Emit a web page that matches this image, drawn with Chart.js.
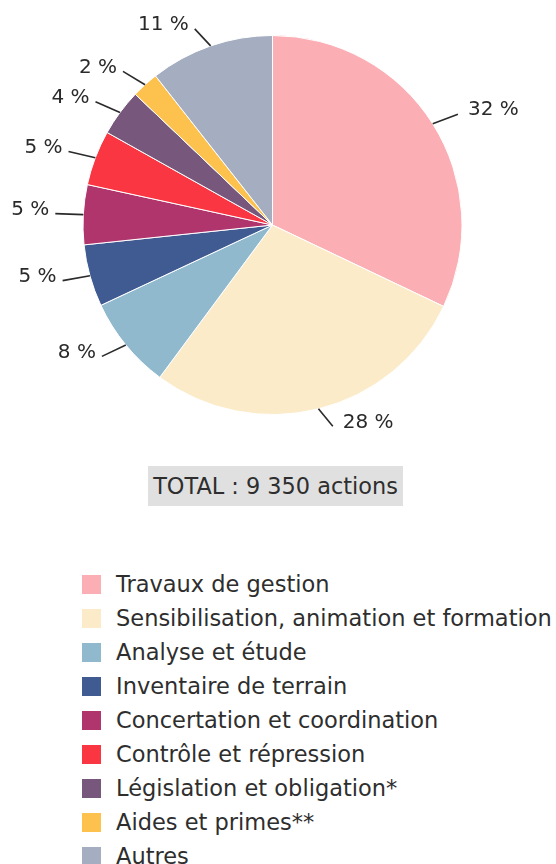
<!DOCTYPE html>
<html lang="fr">
<head>
<meta charset="utf-8">
<script src="https://cdn.jsdelivr.net/npm/chart.js@4/dist/chart.umd.min.js"></script>
<style>
  html, body { margin: 0; padding: 0; background: #fff; }
  body { width: 556px; height: 864px; position: relative; overflow: hidden; font-family: "DejaVu Sans", sans-serif; color: #2e2e2e; }
  #wrap { position: absolute; left: 0; top: 0; width: 556px; height: 460px; }
  #total {
    position: absolute; left: 148px; top: 466px; width: 255px; height: 40px;
    background: #e0e0e0; font-size: 22.4px; line-height: 40px; text-align: center; white-space: nowrap;
  }
  #legend { position: absolute; left: 82px; top: 567px; margin: 0; padding: 0; list-style: none; }
  #legend li { height: 34px; line-height: 34px; font-size: 22.5px; white-space: nowrap; position: relative; padding-left: 34px; }
  #legend li span { position: absolute; left: 0; top: 8px; width: 19px; height: 19px; }
</style>
</head>
<body>
<div id="wrap"><canvas id="pie"></canvas></div>
<div id="total"></div>
<ul id="legend"></ul>
<script>
// =========================
// DONNÉES
// =========================
const categories = [
  "Travaux de gestion",
  "Sensibilisation, animation et formation",
  "Analyse et étude",
  "Inventaire de terrain",
  "Concertation et coordination",
  "Contrôle et répression",
  "Législation et obligation*",
  "Aides et primes**",
  "Autres",
];
const shares = [32.1, 28.1, 7.9, 5.3, 5.1, 4.7, 4.0, 2.3, 10.6];
const colors = [
  "#fbafb5", "#fbebc8", "#90b9ce", "#405b91", "#b0356d",
  "#f93641", "#77577c", "#fdc24d", "#a4aec0",
];
const totalActions = "9 350";

// =========================
// ÉTIQUETTES AVEC TRAITS
// =========================
const leaderLabels = {
  id: "leaderLabels",
  afterDatasetsDraw(chart) {
    const ctx = chart.ctx;
    const meta = chart.getDatasetMeta(0);
    const data = chart.data.datasets[0].data;
    const sum = data.reduce((a, b) => a + b, 0);

    ctx.save();
    ctx.font = "20px 'DejaVu Sans'";
    ctx.fillStyle = "#2a2a2a";
    ctx.strokeStyle = "#2a2a2a";
    ctx.lineWidth = 1.6;
    ctx.textBaseline = "middle";

    meta.data.forEach((arc, i) => {
      const p = arc.getProps(["x", "y", "startAngle", "endAngle", "outerRadius"], true);
      const mid = (p.startAngle + p.endAngle) / 2;
      const cos = Math.cos(mid);
      const sin = Math.sin(mid);
      const side = cos >= 0 ? 1 : -1;

      const x0 = p.x + cos * p.outerRadius;
      const y0 = p.y + sin * p.outerRadius;
      const x1 = x0 + cos * 18 + side * 10;
      const y1 = y0 + sin * 18;

      ctx.beginPath();
      ctx.moveTo(x0, y0);
      ctx.lineTo(x1, y1);
      ctx.stroke();

      const txt = Math.round((data[i] / sum) * 100) + " %";
      ctx.textAlign = side > 0 ? "left" : "right";
      ctx.fillText(txt, x1 + side * (side > 0 ? 10 : 6), y1 - 4);
    });
    ctx.restore();
  },
};

// =========================
// CAMEMBERT
// =========================
new Chart(document.getElementById("pie"), {
  type: "pie",
  data: {
    labels: categories,
    datasets: [
      {
        data: shares,
        backgroundColor: colors,
        borderColor: "#fff",
        borderWidth: 1,
      },
    ],
  },
  options: {
    responsive: true,
    maintainAspectRatio: false,
    animation: false,
    layout: { padding: { top: 35, bottom: 45, left: 0, right: 11 } },
    plugins: {
      legend: { display: false },
      tooltip: { enabled: false },
    },
  },
  plugins: [leaderLabels],
});

// TOTAL + LÉGENDE
document.getElementById("total").textContent = "TOTAL : " + totalActions + " actions";

const legend = document.getElementById("legend");
categories.forEach((name, i) => {
  const li = document.createElement("li");
  const sw = document.createElement("span");
  sw.style.background = colors[i];
  li.appendChild(sw);
  li.appendChild(document.createTextNode(name));
  legend.appendChild(li);
});
</script>
</body>
</html>
